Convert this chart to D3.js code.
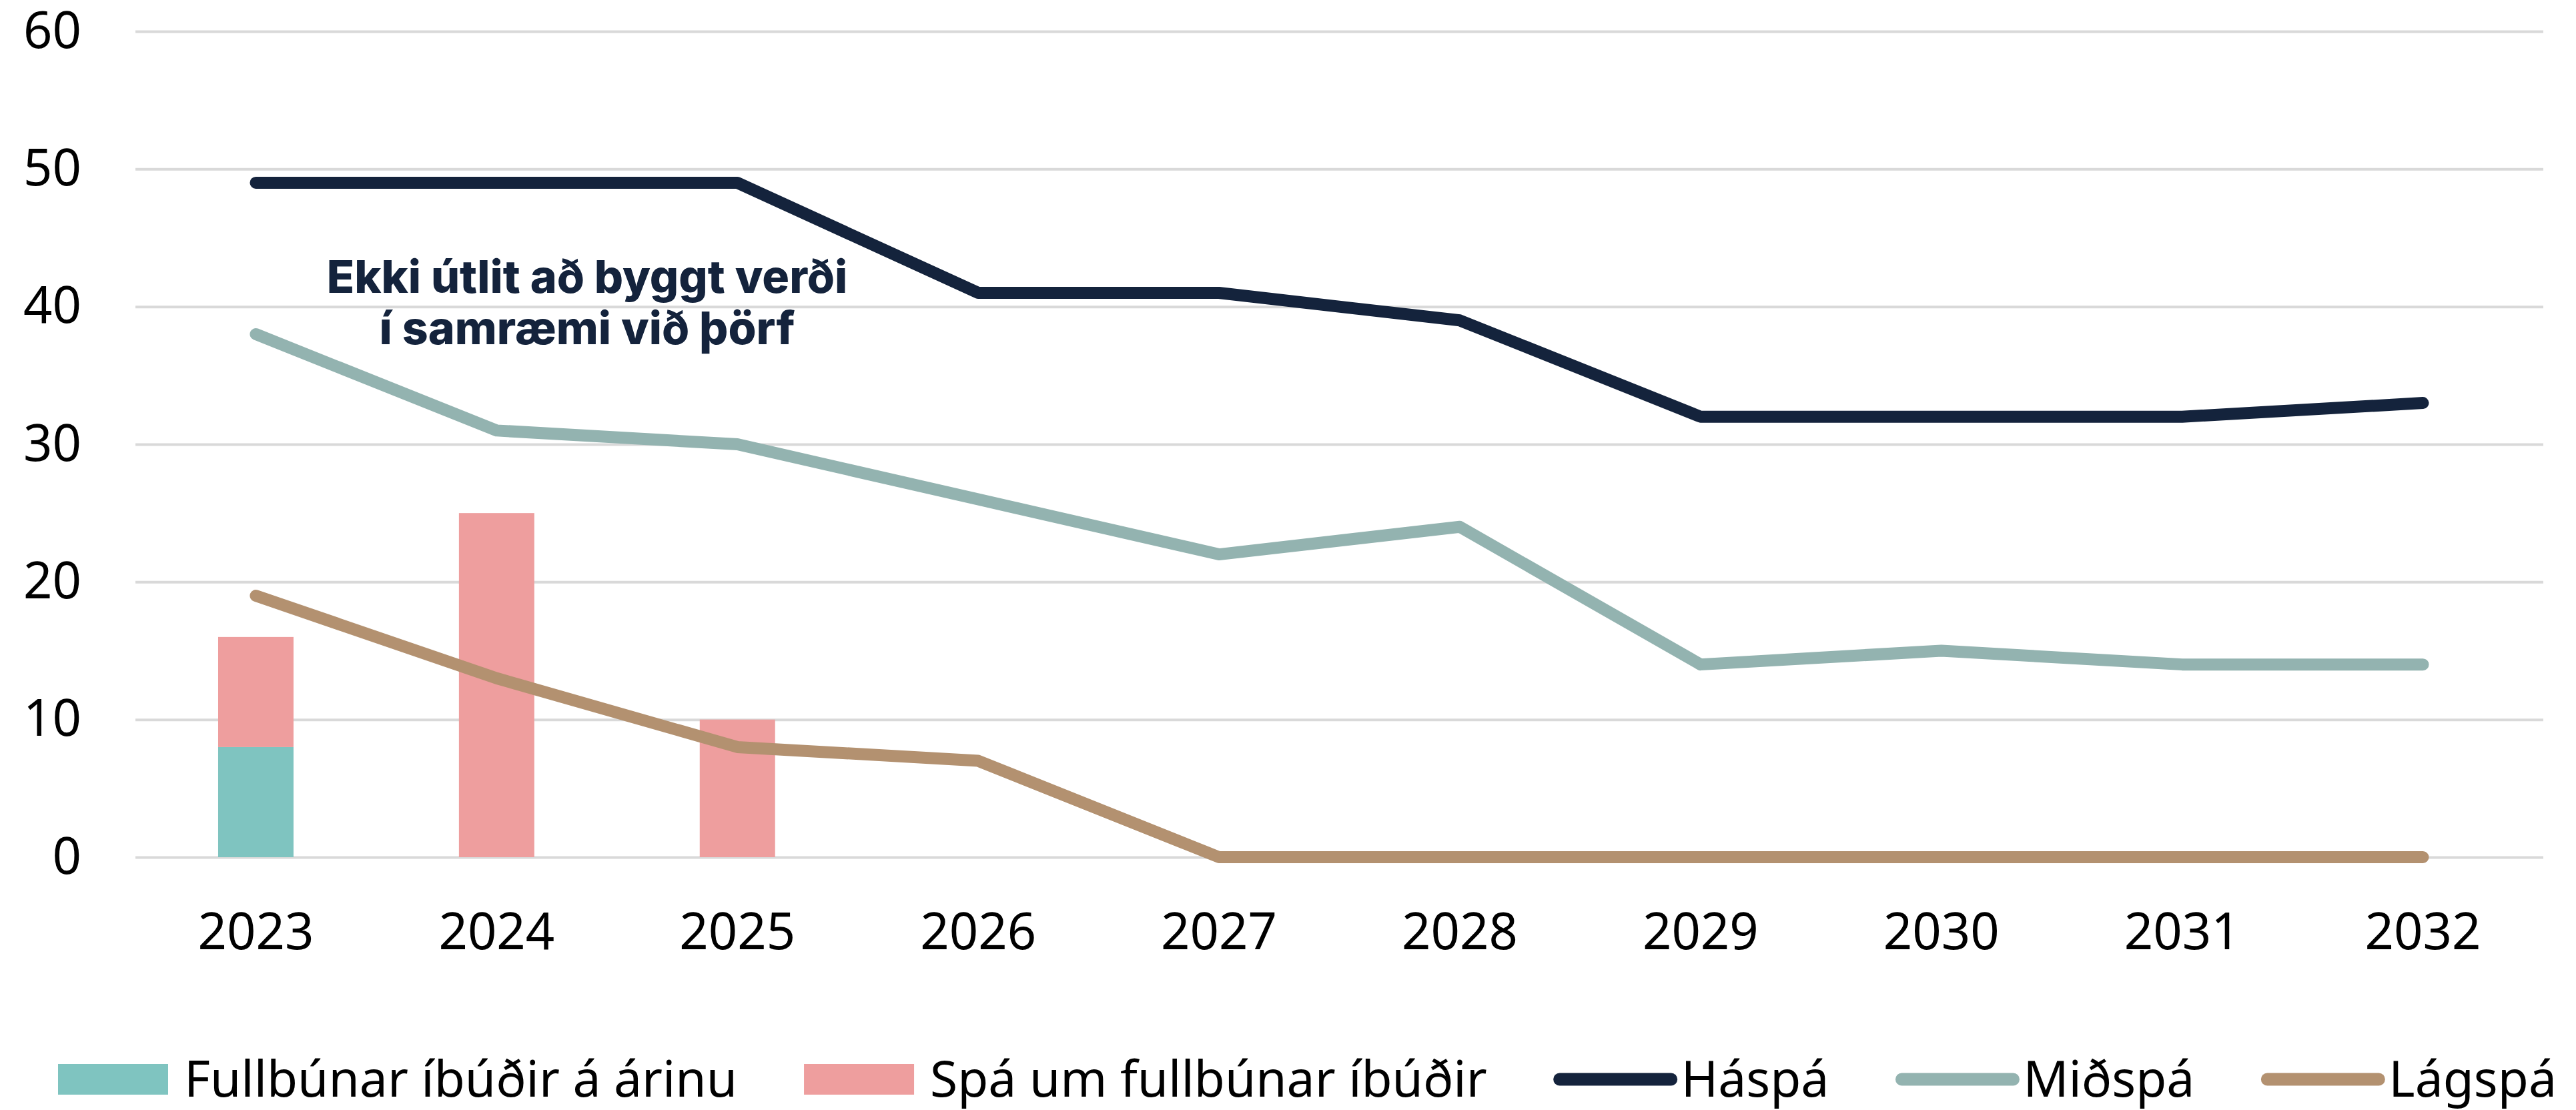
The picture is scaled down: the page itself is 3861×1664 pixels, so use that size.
<!DOCTYPE html>
<html>
<head>
<meta charset="utf-8">
<script src="https://cdn.jsdelivr.net/npm/d3@7"></script>
<style>
  body { margin: 0; background: #fff; }
  svg text { font-family: "Noto Sans", sans-serif; }
</style>
</head>
<body>
<div class="chart"></div>
<script>
var years = [2023, 2024, 2025, 2026, 2027, 2028, 2029, 2030, 2031, 2032];
var fullbunar = [8, 0, 0, 0, 0, 0, 0, 0, 0, 0];
var spaFull = [8, 25, 10, 0, 0, 0, 0, 0, 0, 0];
var haspa = [49, 49, 49, 41, 41, 39, 32, 32, 32, 33];
var midspa = [38, 31, 30, 26, 22, 24, 14, 15, 14, 14];
var lagspa = [19, 13, 8, 7, 0, 0, 0, 0, 0, 0];
var yTicks = [0, 10, 20, 30, 40, 50, 60];
var noteLines = ["Ekki útlit að byggt verði", "í samræmi við þörf"];

var width = 3861, height = 1664;
var plotL = 203, plotR = 3812, plotT = 47, plotB = 1285;

var svg = d3.select(".chart").append("svg")
  .attr("width", width)
  .attr("height", height);

var x = d3.scaleBand().domain(years).range([plotL, plotR]).padding(0);
var y = d3.scaleLinear().domain([0, 60]).range([plotB, plotT]);
var barW = x.bandwidth() * 0.313;

// y axis + gridlines
var yAxis = svg.append("g")
  .attr("transform", "translate(" + plotL + ",0)")
  .call(d3.axisLeft(y).tickValues(yTicks).tickSize(-(plotR - plotL)).tickPadding(81));
yAxis.select(".domain").remove();
yAxis.selectAll("line").attr("stroke", "#d9d9d9").attr("stroke-width", 4);
yAxis.selectAll("text").attr("font-size", 76).attr("fill", "#000");

// x axis
var xAxis = svg.append("g")
  .attr("transform", "translate(0," + plotB + ")")
  .call(d3.axisBottom(x).tickSize(0).tickPadding(84));
xAxis.select(".domain").remove();
xAxis.selectAll("text").attr("font-size", 76).attr("fill", "#000");

// stacked bars
var bars = svg.append("g");
bars.selectAll(".b1").data(years).enter().append("rect")
  .attr("x", function(d) { return x(d) + (x.bandwidth() - barW) / 2; })
  .attr("width", barW)
  .attr("y", function(d, i) { return y(fullbunar[i]); })
  .attr("height", function(d, i) { return y(0) - y(fullbunar[i]); })
  .attr("fill", "#7fc4c0");
bars.selectAll(".b2").data(years).enter().append("rect")
  .attr("x", function(d) { return x(d) + (x.bandwidth() - barW) / 2; })
  .attr("width", barW)
  .attr("y", function(d, i) { return y(fullbunar[i] + spaFull[i]); })
  .attr("height", function(d, i) { return y(fullbunar[i]) - y(fullbunar[i] + spaFull[i]); })
  .attr("fill", "#ee9e9e");

// lines
var series = [
  { name: "Háspá", values: haspa, color: "#14233c" },
  { name: "Miðspá", values: midspa, color: "#93b3b0" },
  { name: "Lágspá", values: lagspa, color: "#b39170" }
];
var line = d3.line()
  .x(function(d, i) { return x(years[i]) + x.bandwidth() / 2; })
  .y(function(d) { return y(d); });

svg.append("g").selectAll("path").data(series).enter().append("path")
  .attr("d", function(s) { return line(s.values); })
  .attr("fill", "none")
  .attr("stroke", function(s) { return s.color; })
  .attr("stroke-width", 18)
  .attr("stroke-linecap", "round")
  .attr("stroke-linejoin", "round");

// annotation
var note = svg.append("text")
  .attr("x", 880)
  .attr("y", 439)
  .attr("text-anchor", "middle")
  .attr("fill", "#14233c")
  .attr("font-size", 68)
  .attr("font-weight", 800)
  .style("font-family", "Inter, sans-serif");
note.selectAll("tspan").data(noteLines).enter().append("tspan")
  .attr("x", 880)
  .attr("dy", function(d, i) { return i === 0 ? 0 : 77; })
  .text(function(d) { return d; });

// legend
var legendItems = [
  { name: "Fullbúnar íbúðir á árinu", color: "#7fc4c0", type: "rect" },
  { name: "Spá um fullbúnar íbúðir", color: "#ee9e9e", type: "rect" },
  { name: "Háspá", color: "#14233c", type: "line" },
  { name: "Miðspá", color: "#93b3b0", type: "line" },
  { name: "Lágspá", color: "#b39170", type: "line" }
];
var legend = svg.append("g");
var lx = 87, ly = 1617;
legendItems.forEach(function(it) {
  if (it.type === "rect") {
    legend.append("rect").attr("x", lx).attr("y", ly - 22).attr("width", 165).attr("height", 46).attr("fill", it.color);
    lx += 165 + 24;
  } else {
    legend.append("line").attr("x1", lx + 9).attr("x2", lx + 176).attr("y1", ly + 1).attr("y2", ly + 1)
      .attr("stroke", it.color).attr("stroke-width", 19).attr("stroke-linecap", "round");
    lx += 185 + 6;
  }
  var t = legend.append("text").attr("x", lx).attr("y", ly).attr("dy", "0.36em")
    .attr("font-size", 75).attr("fill", "#000").text(it.name);
  lx += t.node().getComputedTextLength() + 100;
});
</script>
</body>
</html>
